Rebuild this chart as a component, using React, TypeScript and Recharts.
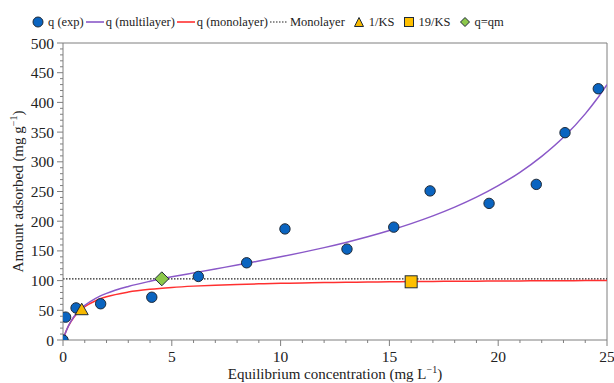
import React from "react"
import { ComposedChart, Line, Scatter, XAxis, YAxis, ReferenceLine } from "recharts"

// experimental points
const expC = [0, 0.12, 0.6, 1.73, 4.08, 6.22, 8.44, 10.2, 13.05, 15.2, 16.87, 19.58, 21.75, 23.07, 24.6]
const expQ = [0, 38.5, 54, 61, 72, 107, 130, 187, 153, 190, 251, 230, 262, 349, 423]

// fitted curves
const curveC = [0, 0.05, 0.1, 0.25, 0.5, 0.75, 1, 1.5, 2, 3, 4, 5, 6, 7, 8, 9, 10, 11, 12, 13, 14, 15, 16, 17, 18, 19, 20, 21, 22, 23, 24, 24.5, 25]
const multiQ = [0, 5.8, 10.9, 23.8, 39.2, 50.1, 58.3, 70.2, 78.5, 90.2, 98.9, 106.3, 113.0, 119.6, 126.1, 132.9, 140.0, 147.5, 155.5, 164.2, 173.7, 184.2, 195.9, 208.9, 223.6, 240.4, 259.8, 282.4, 309.2, 341.3, 380.7, 404, 430]
const monoQ = [0, 5.8, 10.9, 23.6, 38.4, 48.6, 56.0, 66.1, 72.7, 80.7, 85.4, 88.5, 90.7, 92.3, 93.6, 94.6, 95.4, 96.1, 96.7, 97.2, 97.6, 98.0, 98.3, 98.6, 98.8, 99.1, 99.3, 99.5, 99.7, 99.8, 100.0, 100.0, 100.1]

const monolayerQ = 103
const halfKsC = [0.86]
const halfKsQ = [51]
const ninetyKsC = [16.0]
const ninetyKsQ = [98]
const qmC = [4.54]
const qmQ = [103]

const xMajor = [0, 5, 10, 15, 20, 25]
const yMajor = [0, 50, 100, 150, 200, 250, 300, 350, 400, 450, 500]
const xTicks = Array.from({ length: 26 }, (_, i) => i)
const yTicks = Array.from({ length: 51 }, (_, i) => i * 10)

const BLUE = "#0a64c0"
const PURPLE = "#8a58c8"
const RED = "#ff3030"
const AXIS = "#7f7f7f"
const EDGE = "#1e2a38"
const FONT = "'Liberation Serif', Tinos, 'Times New Roman', Times, 'DejaVu Serif', 'Noto Serif', serif"

const toPoints = (xs: number[], ys: number[]) => xs.map((c, i) => ({ c, q: ys[i] }))

const expData = toPoints(expC, expQ)
const multiData = toPoints(curveC, multiQ)
const monoData = toPoints(curveC, monoQ)
const halfData = toPoints(halfKsC, halfKsQ)
const ninetyData = toPoints(ninetyKsC, ninetyKsQ)
const qmData = toPoints(qmC, qmQ)

const Dot = (p: any) => <circle cx={p.cx} cy={p.cy} r={5.2} fill={BLUE} stroke={EDGE} strokeWidth={1} />
const Tri = (p: any) => (
  <polygon
    points={`${p.cx},${p.cy - 6.5} ${p.cx - 6.5},${p.cy + 5} ${p.cx + 6.5},${p.cy + 5}`}
    fill="#f6b800"
    stroke={EDGE}
    strokeWidth={1}
  />
)
const Sq = (p: any) => <rect x={p.cx - 6} y={p.cy - 6} width={12} height={12} fill="#ffc000" stroke={EDGE} strokeWidth={1} />
const Dia = (p: any) => (
  <polygon
    points={`${p.cx},${p.cy - 7} ${p.cx + 7},${p.cy} ${p.cx},${p.cy + 7} ${p.cx - 7},${p.cy}`}
    fill="#8cc84b"
    stroke={EDGE}
    strokeWidth={1}
  />
)

const XTick = (props: any) => {
  const { x, y, payload } = props
  const major = xMajor.includes(payload.value)
  return (
    <g>
      <line x1={x} x2={x} y1={y} y2={y + (major ? 6 : 3)} stroke={AXIS} />
      {major && (
        <text x={x} y={y + 22} textAnchor="middle" fontSize={15.5} style={{ fontFamily: FONT }} fill="#222">
          {payload.value}
        </text>
      )}
    </g>
  )
}

const YTick = (props: any) => {
  const { x, y, payload } = props
  const major = yMajor.includes(payload.value)
  return (
    <g>
      <line x1={x} x2={x - (major ? 6 : 3)} y1={y} y2={y} stroke={AXIS} />
      {major && (
        <text x={x - 9} y={y + 5.5} textAnchor="end" fontSize={15.5} style={{ fontFamily: FONT }} fill="#222">
          {payload.value}
        </text>
      )}
    </g>
  )
}

const XTitle = ({ viewBox }: any) => (
  <text x={viewBox.x + viewBox.width / 2} y={379} textAnchor="middle" fontSize={15} style={{ fontFamily: FONT }} fill="#222">
    Equilibrium concentration (mg L
    <tspan fontSize={10} dy={-6}>−1</tspan>
    <tspan dy={6}>)</tspan>
  </text>
)

const YTitle = ({ viewBox }: any) => {
  const cy = viewBox.y + viewBox.height / 2
  return (
    <text x={23} y={cy} transform={`rotate(-90 23 ${cy})`} textAnchor="middle" fontSize={15} style={{ fontFamily: FONT }} fill="#222">
      Amount adsorbed (mg g
      <tspan fontSize={10} dy={-6}>−1</tspan>
      <tspan dy={6}>)</tspan>
    </text>
  )
}

const legendText: React.CSSProperties = { fontSize: 12.5, fontFamily: FONT, color: "#222", whiteSpace: "nowrap" }

function LegendRow() {
  const lineSwatch = (color: string, dash?: string) => (
    <svg width={18} height={6} style={{ margin: "0 2px" }}>
      <line x1={0} x2={18} y1={3} y2={3} stroke={color} strokeWidth={dash ? 1.2 : 1.6} strokeDasharray={dash} />
    </svg>
  )
  return (
    <div style={{ position: "absolute", left: 32, top: 13, display: "flex", alignItems: "center", height: 18 }}>
      <svg width={12} height={12}>
        <circle cx={6} cy={6} r={5} fill={BLUE} stroke={EDGE} strokeWidth={1} />
      </svg>
      <span style={{ ...legendText, marginLeft: 4 }}>q (exp)</span>
      {lineSwatch(PURPLE)}
      <span style={legendText}>q (multilayer)</span>
      {lineSwatch(RED)}
      <span style={legendText}>q (monolayer)</span>
      {lineSwatch("#222", "1.5 1.5")}
      <span style={legendText}>Monolayer</span>
      <svg width={12} height={12} style={{ marginLeft: 8 }}>
        <polygon points="6,1.5 1.5,10.5 10.5,10.5" fill="#f6b800" stroke={EDGE} strokeWidth={1} />
      </svg>
      <span style={{ ...legendText, marginLeft: 4 }}>1/KS</span>
      <svg width={12} height={12} style={{ marginLeft: 8 }}>
        <rect x={1.5} y={1.5} width={9} height={9} fill="#ffc000" stroke={EDGE} strokeWidth={1} />
      </svg>
      <span style={{ ...legendText, marginLeft: 4 }}>19/KS</span>
      <svg width={12} height={12} style={{ marginLeft: 8 }}>
        <polygon points="6,1.5 10.5,6 6,10.5 1.5,6" fill="#8cc84b" stroke={EDGE} strokeWidth={1} />
      </svg>
      <span style={{ ...legendText, marginLeft: 4 }}>q=qm</span>
    </div>
  )
}

export default function App() {
  return (
    <div style={{ position: "absolute", left: 0, top: 0, width: 614, height: 383, background: "#fff", fontFamily: FONT }}>
      <ComposedChart width={614} height={383} margin={{ top: 43, right: 7, bottom: 0, left: 13 }}>
        <XAxis
          dataKey="c"
          type="number"
          domain={[0, 25]}
          ticks={xTicks}
          interval={0}
          tickSize={0}
          tickMargin={0}
          tick={<XTick />}
          height={43}
          stroke={AXIS}
          allowDataOverflow
          label={{ content: (p: any) => <XTitle viewBox={p.viewBox} /> }}
        />
        <YAxis
          dataKey="q"
          type="number"
          domain={[0, 500]}
          ticks={yTicks}
          interval={0}
          tickSize={0}
          tickMargin={0}
          tick={<YTick />}
          width={50}
          stroke={AXIS}
          allowDataOverflow
          label={{ content: (p: any) => <YTitle viewBox={p.viewBox} /> }}
        />
        <ReferenceLine y={500} stroke={AXIS} />
        <ReferenceLine x={25} stroke={AXIS} />
        <ReferenceLine y={monolayerQ} stroke="#222" strokeDasharray="1.5 1.5" strokeWidth={1.2} />
        <Line data={monoData} dataKey="q" type="monotone" stroke={RED} strokeWidth={1.5} dot={false} isAnimationActive={false} />
        <Line data={multiData} dataKey="q" type="monotone" stroke={PURPLE} strokeWidth={1.5} dot={false} isAnimationActive={false} />
        <Scatter data={expData} dataKey="q" shape={Dot} isAnimationActive={false} />
        <Scatter data={halfData} dataKey="q" shape={Tri} isAnimationActive={false} />
        <Scatter data={ninetyData} dataKey="q" shape={Sq} isAnimationActive={false} />
        <Scatter data={qmData} dataKey="q" shape={Dia} isAnimationActive={false} />
      </ComposedChart>
      <LegendRow />
    </div>
  )
}
